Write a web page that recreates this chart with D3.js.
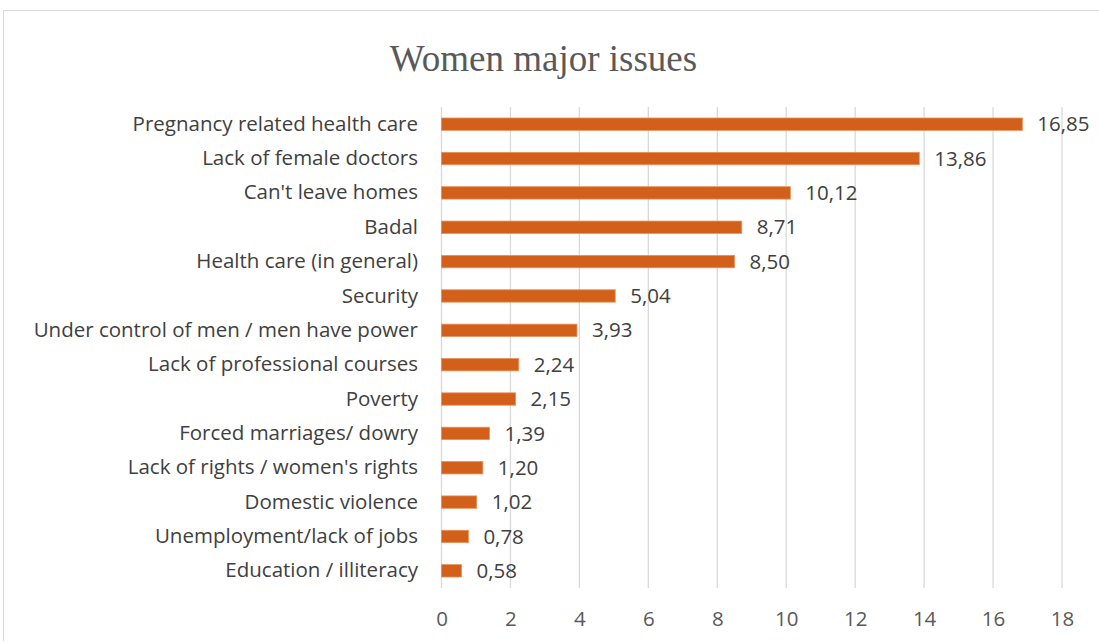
<!DOCTYPE html>
<html><head><meta charset="utf-8">
<script src="https://cdn.jsdelivr.net/npm/d3@7"></script>
<style>body{margin:0;background:#fff}svg{display:block}</style>
</head><body>
<script>
const categories = ["Pregnancy related health care","Lack of female doctors","Can't leave homes","Badal","Health care (in general)","Security","Under control of men / men have power","Lack of professional courses","Poverty","Forced marriages/ dowry","Lack of rights / women's rights","Domestic violence","Unemployment/lack of jobs","Education / illiteracy"];
const values = [16.85,13.86,10.12,8.71,8.50,5.04,3.93,2.24,2.15,1.39,1.20,1.02,0.78,0.58];
const tickValues = [0,2,4,6,8,10,12,14,16,18];
const title = "Women major issues";

const W = 1099, H = 641;
const FS = 20.5;
const svg = d3.select("body").append("svg").attr("width", W).attr("height", H);
svg.append("rect").attr("x",3.5).attr("y",10.5).attr("width",1100).attr("height",640)
  .attr("fill","#fff").attr("stroke","#d9d9d9");

const x = d3.scaleLinear().domain([0,18]).range([441.5,1062]);
const y = d3.scaleBand().domain(categories).range([107,588]).paddingInner(0.64).paddingOuter(0.32);

svg.append("text").attr("x",543.5).attr("y",71).attr("text-anchor","middle")
  .attr("font-family","Liberation Serif, Times New Roman, serif").attr("font-size",37)
  .attr("fill","#595959").text(title);

const grid = svg.append("g");
grid.selectAll("line").data(tickValues).join("line")
  .attr("x1",d=>x(d)).attr("x2",d=>x(d)).attr("y1",107).attr("y2",588)
  .attr("stroke","#d9d9d9").attr("stroke-width",1.3);

const xAxis = d3.axisBottom(x).tickValues(tickValues).tickSize(0).tickPadding(0).tickFormat(d3.format("d"));
const gx = svg.append("g").attr("transform","translate(0,611)").call(xAxis);
gx.select(".domain").remove();
gx.selectAll("text").attr("font-family","Open Sans, sans-serif").attr("font-size",FS).attr("fill","#595959").attr("dy","0.71em");

const gy = svg.append("g").attr("transform","translate(418,0)")
  .call(d3.axisLeft(y).tickSize(0).tickPadding(0));
gy.select(".domain").remove();
gy.selectAll("text").attr("font-family","Open Sans, sans-serif").attr("font-size",FS).attr("fill","#404040");

svg.append("g").selectAll("rect").data(values).join("rect")
  .attr("x",x(0)).attr("y",(d,i)=>y(categories[i]))
  .attr("width",d=>x(d)-x(0)).attr("height",y.bandwidth())
  .attr("fill","#d2601a").attr("stroke","#e8905a").attr("stroke-width",0.8);

svg.append("g").selectAll("text").data(values).join("text")
  .attr("x",d=>x(d)+15).attr("y",(d,i)=>y(categories[i])+y.bandwidth()/2)
  .attr("dy","0.35em").attr("font-family","Open Sans, sans-serif").attr("font-size",FS)
  .attr("fill","#404040").text(d=>d.toFixed(2).replace(".",","));
</script>
</body></html>
